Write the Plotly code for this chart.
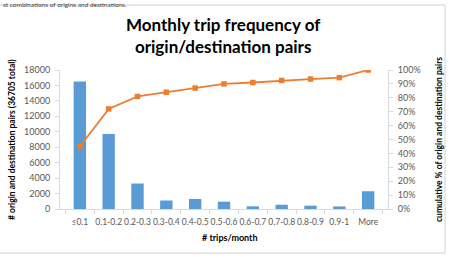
import plotly.graph_objects as go

categories = ["≤0.1", "0.1-0.2", "0.2-0.3", "0.3-0.4", "0.4-0.5", "0.5-0.6",
              "0.6-0.7", "0.7-0.8", "0.8-0.9", "0.9-1", "More"]
pair_counts = [16500, 9700, 3300, 1100, 1300, 950, 350, 550, 430, 330, 2300]
cumulative_pct = [0.45, 0.72, 0.81, 0.84, 0.87, 0.90, 0.91, 0.925, 0.935, 0.945, 1.0]
left_ticks = list(range(0, 18001, 2000))
right_ticks = [i / 10 for i in range(0, 11)]

W, H = 450, 259
L, R, T, B = 60, 62, 70, 50
pw, ph = W - L - R, H - T - B

def px(x):
    return (x - L) / pw

def py(y):
    return (H - B - y) / ph

FONT = "Lato"
TICKC = "#595959"
AXC = "#d9d9d9"

fig = go.Figure()
fig.add_trace(go.Bar(x=categories, y=pair_counts, marker_color="#5B9BD5",
                     marker_line_width=0, yaxis="y"))
fig.add_trace(go.Scatter(x=categories, y=cumulative_pct, mode="lines+markers",
                         line=dict(color="#ED7D31", width=1.8),
                         marker=dict(symbol="square", size=5.5, color="#ED7D31"),
                         yaxis="y2"))

fig.update_layout(
    width=W, height=H,
    margin=dict(l=L, r=R, t=T, b=B),
    paper_bgcolor="white", plot_bgcolor="white",
    showlegend=False,
    bargap=0.57,
    font=dict(family=FONT, size=9, color=TICKC),
    xaxis=dict(type="category", showline=True, linecolor=AXC, linewidth=1,
               ticks="outside", tickson="boundaries", ticklen=4, tickcolor=AXC,
               ticklabelstandoff=5,
               tickangle=0, tickfont=dict(size=8.5, color=TICKC), showgrid=False),
    yaxis=dict(range=[0, 18000], tickvals=left_ticks, tickformat="d", showline=True,
               linecolor=AXC, ticks="outside", ticklen=4, tickcolor=AXC, showgrid=False,
               ticklabelstandoff=3,
               zeroline=False, tickfont=dict(size=9, color=TICKC)),
    yaxis2=dict(range=[0, 1], tickvals=right_ticks, tickformat=".0%", overlaying="y",
                side="right", showline=True, linecolor=AXC, ticks="outside",
                ticklen=4, tickcolor=AXC, showgrid=False, zeroline=False,
                ticklabelstandoff=3,
                tickfont=dict(size=9, color=TICKC)),
)

def ann(text, x, y, size, color="#000000", **kw):
    d = dict(text=text, x=px(x), y=py(y), xref="paper", yref="paper",
             showarrow=False, xanchor="center", yanchor="middle",
             font=dict(family=FONT, size=size, color=color))
    d.update(kw)
    return d

annotations = [
    ann("<b>Monthly trip frequency of<br>origin/destination pairs</b>", 223, 36, 17,
        align="center"),
    ann("<b># origin and destination pairs (36705 total)</b>", 12, 140, 8.5,
        textangle=-90),
    ann("<b>cumulative % of origin and destination pairs</b>", 439, 140, 8.5,
        textangle=-90),
    ann("<b># trips/month</b>", 230, 237, 9),
    ann("st combinations of origins and destinations.", 1, 4, 6.5, "#404040",
        xanchor="left"),
]
fig.update_layout(annotations=annotations)

fig.add_shape(type="rect", xref="paper", yref="paper",
              x0=px(-2), x1=px(445), y0=py(253), y1=py(5),
              line=dict(color="#d0d0d0", width=1), fillcolor="rgba(0,0,0,0)",
              layer="below")

fig.write_html("out.html")
